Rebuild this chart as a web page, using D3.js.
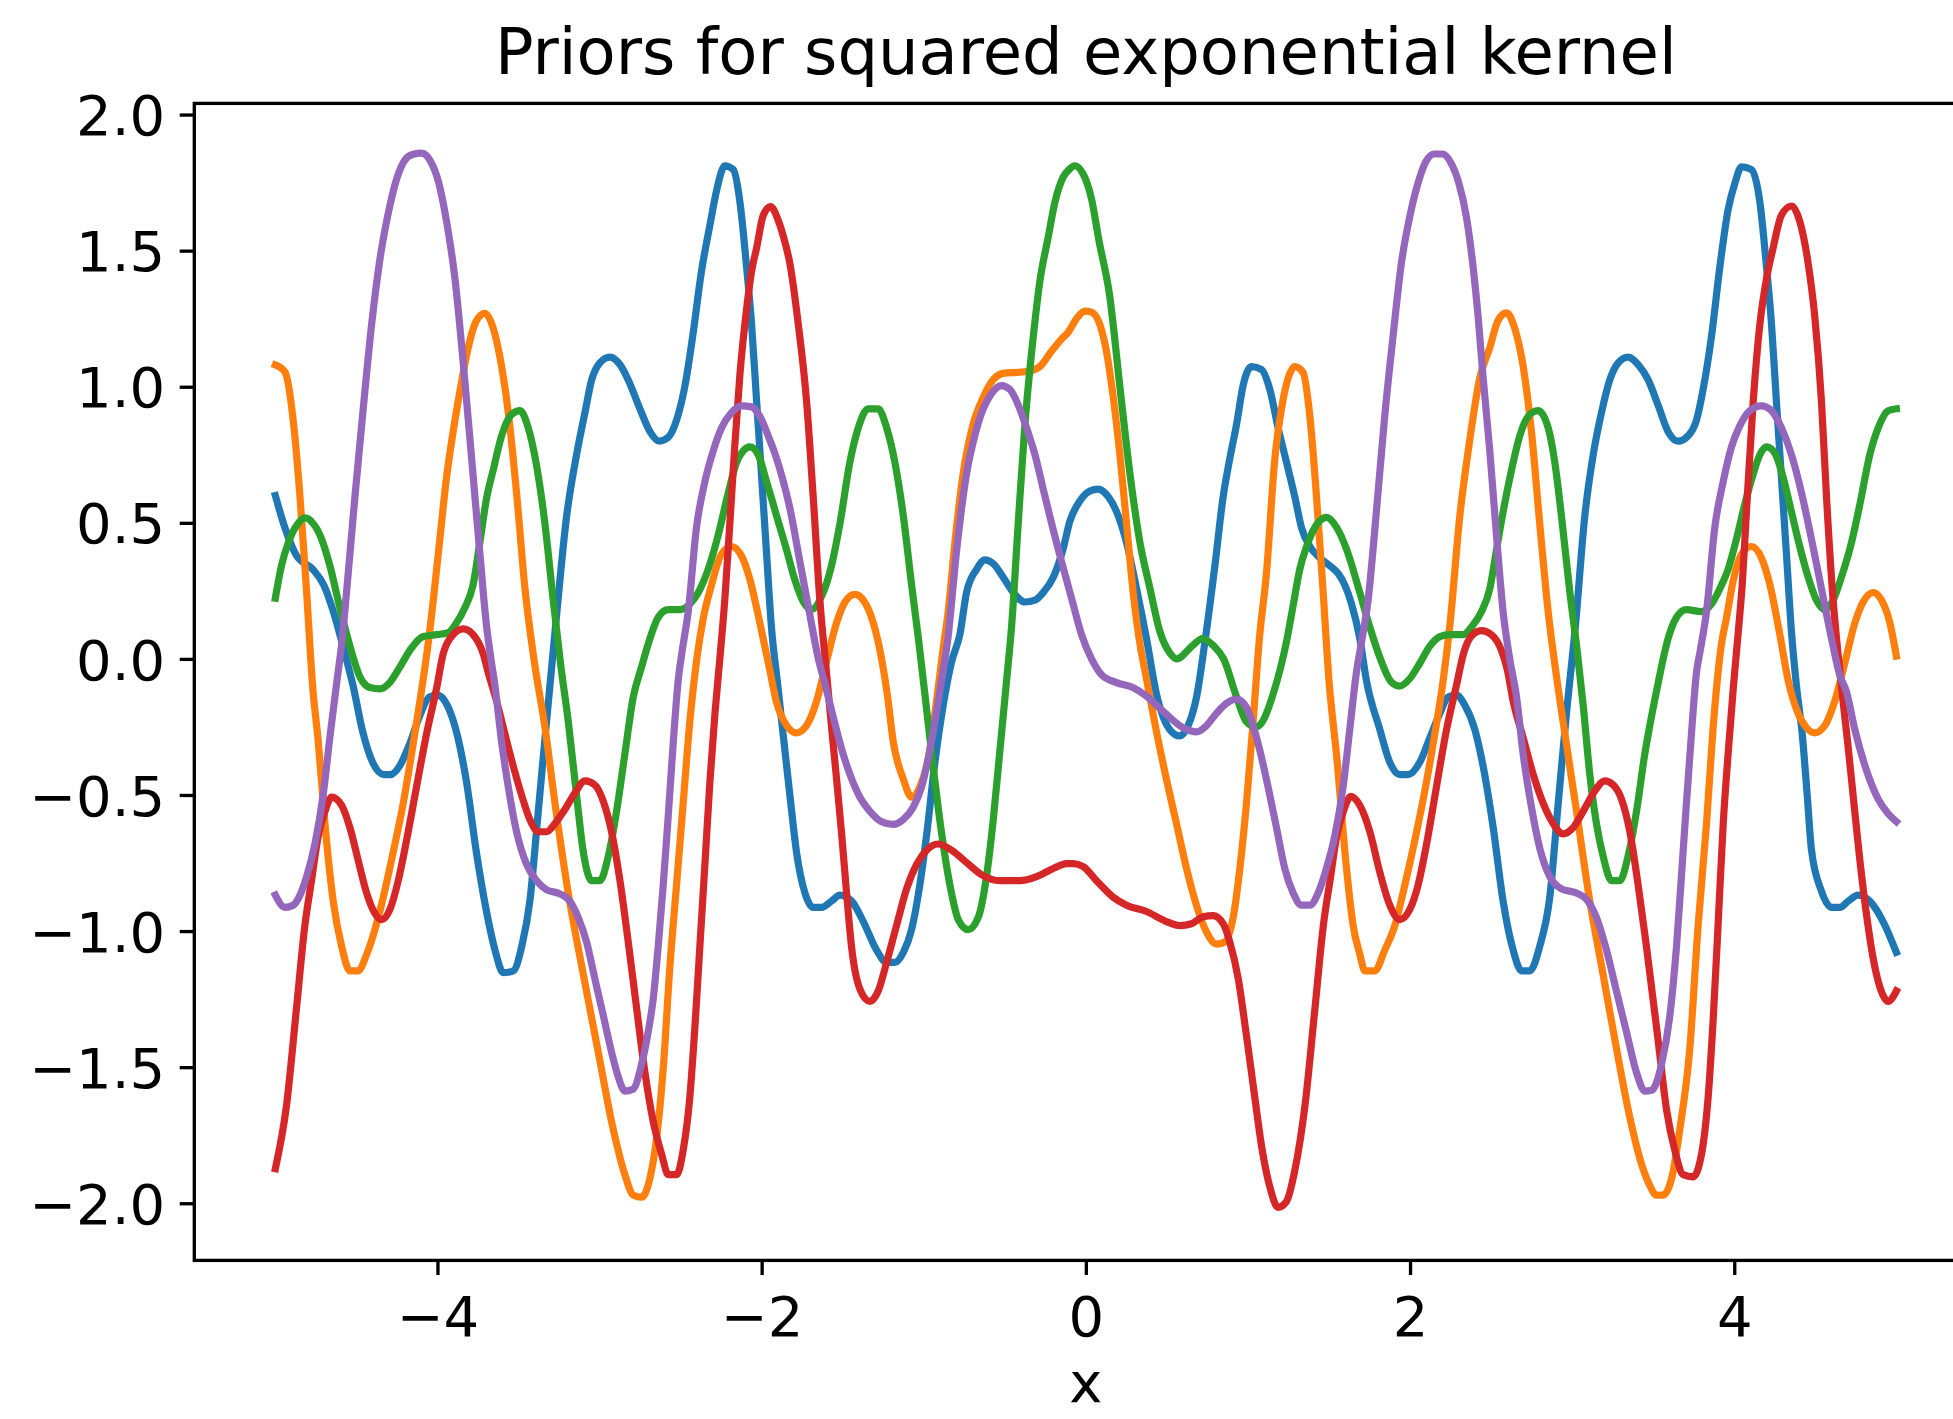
<!DOCTYPE html>
<html>
<head>
<meta charset="utf-8">
<script src="https://cdn.jsdelivr.net/npm/d3@7"></script>
<style>
  html, body { margin: 0; padding: 0; background: #ffffff; }
  svg { display: block; }
  text { font-family: "DejaVu Sans", sans-serif; fill: #000000; }
</style>
</head>
<body>
<svg id="chart" width="1953" height="1419"></svg>
<script>
// Labels and ticks
const titleText = "Priors for squared exponential kernel";
const xLabelText = "x";
const xTicks = [-4, -2, 0, 2, 4];
const yTicks = [-2.0, -1.5, -1.0, -0.5, 0.0, 0.5, 1.0, 1.5, 2.0];
const sampleColors = ["#1f77b4", "#ff7f0e", "#2ca02c", "#d62728", "#9467bd"];

// Five prior draws, [x, f(x)]
const sample1 = [[-5.00,0.60],[-4.94,0.48],[-4.87,0.38],[-4.77,0.33],[-4.70,0.27],[-4.64,0.17],[-4.58,0.04],[-4.52,-0.10],[-4.46,-0.27],[-4.40,-0.38],[-4.33,-0.425],[-4.29,-0.425],[-4.23,-0.39],[-4.17,-0.31],[-4.11,-0.21],[-4.05,-0.14],[-4.00,-0.133],[-3.94,-0.17],[-3.88,-0.275],[-3.82,-0.455],[-3.76,-0.71],[-3.70,-0.92],[-3.645,-1.07],[-3.594,-1.153],[-3.532,-1.146],[-3.48,-1.056],[-3.43,-0.89],[-3.378,-0.56],[-3.327,-0.23],[-3.27,0.13],[-3.203,0.525],[-3.142,0.75],[-3.09,0.905],[-3.049,1.025],[-2.998,1.088],[-2.936,1.109],[-2.874,1.081],[-2.823,1.025],[-2.751,0.919],[-2.689,0.835],[-2.632,0.80],[-2.576,0.814],[-2.525,0.877],[-2.473,1.004],[-2.422,1.20],[-2.371,1.425],[-2.319,1.594],[-2.278,1.721],[-2.227,1.812],[-2.175,1.798],[-2.134,1.679],[-2.093,1.44],[-2.062,1.229],[-2.031,0.947],[-2.00,0.666],[-1.97,0.39],[-1.94,0.12],[-1.90,-0.10],[-1.867,-0.28],[-1.826,-0.50],[-1.785,-0.71],[-1.733,-0.86],[-1.682,-0.913],[-1.63,-0.913],[-1.569,-0.89],[-1.517,-0.868],[-1.445,-0.89],[-1.373,-0.965],[-1.291,-1.07],[-1.229,-1.115],[-1.178,-1.115],[-1.126,-1.078],[-1.075,-0.995],[-1.024,-0.83],[-0.983,-0.65],[-0.931,-0.38],[-0.88,-0.17],[-0.828,-0.01],[-0.777,0.09],[-0.736,0.244],[-0.674,0.329],[-0.623,0.364],[-0.571,0.35],[-0.51,0.30],[-0.448,0.244],[-0.376,0.209],[-0.314,0.216],[-0.263,0.244],[-0.201,0.30],[-0.14,0.405],[-0.099,0.505],[-0.037,0.58],[0.025,0.617],[0.076,0.624],[0.138,0.596],[0.19,0.54],[0.251,0.427],[0.313,0.258],[0.374,0.075],[0.436,-0.13],[0.518,-0.26],[0.58,-0.283],[0.631,-0.245],[0.683,-0.14],[0.734,0.06],[0.796,0.342],[0.847,0.596],[0.888,0.736],[0.93,0.863],[0.97,1.004],[1.022,1.074],[1.084,1.063],[1.135,0.99],[1.186,0.849],[1.238,0.722],[1.289,0.596],[1.33,0.483],[1.382,0.413],[1.443,0.371],[1.505,0.342],[1.556,0.314],[1.597,0.272],[1.639,0.202],[1.69,0.075],[1.731,-0.08],[1.814,-0.26],[1.875,-0.38],[1.937,-0.425],[1.988,-0.425],[2.06,-0.38],[2.122,-0.29],[2.184,-0.20],[2.235,-0.14],[2.286,-0.133],[2.338,-0.17],[2.40,-0.26],[2.451,-0.395],[2.513,-0.62],[2.574,-0.89],[2.636,-1.07],[2.688,-1.146],[2.739,-1.146],[2.80,-1.056],[2.862,-0.875],[2.914,-0.53],[2.965,-0.20],[3.02,0.12],[3.078,0.525],[3.13,0.75],[3.181,0.905],[3.232,1.025],[3.284,1.088],[3.345,1.109],[3.407,1.081],[3.469,1.025],[3.53,0.933],[3.592,0.835],[3.654,0.80],[3.716,0.82],[3.767,0.877],[3.808,0.99],[3.86,1.186],[3.911,1.44],[3.962,1.65],[4.005,1.75],[4.045,1.808],[4.106,1.798],[4.158,1.679],[4.199,1.44],[4.23,1.229],[4.26,0.947],[4.291,0.666],[4.322,0.385],[4.353,0.10],[4.384,-0.10],[4.42,-0.28],[4.45,-0.50],[4.476,-0.70],[4.538,-0.853],[4.60,-0.913],[4.651,-0.913],[4.703,-0.89],[4.764,-0.868],[4.836,-0.89],[4.918,-0.965],[5.00,-1.078]];

const sample2 = [[-5.00,1.08],[-4.94,1.053],[-4.89,0.877],[-4.848,0.596],[-4.807,0.244],[-4.77,-0.10],[-4.735,-0.306],[-4.694,-0.606],[-4.643,-0.89],[-4.591,-1.056],[-4.54,-1.146],[-4.489,-1.146],[-4.437,-1.086],[-4.386,-0.995],[-4.334,-0.875],[-4.273,-0.71],[-4.211,-0.53],[-4.16,-0.35],[-4.108,-0.155],[-4.05,0.09],[-3.995,0.385],[-3.944,0.666],[-3.892,0.877],[-3.851,1.018],[-3.81,1.144],[-3.759,1.243],[-3.707,1.27],[-3.656,1.215],[-3.604,1.074],[-3.563,0.905],[-3.512,0.61],[-3.46,0.258],[-3.40,-0.02],[-3.337,-0.25],[-3.275,-0.53],[-3.193,-0.86],[-3.10,-1.16],[-3.008,-1.445],[-2.915,-1.73],[-2.844,-1.895],[-2.792,-1.97],[-2.741,-1.978],[-2.69,-1.91],[-2.648,-1.76],[-2.607,-1.505],[-2.566,-1.13],[-2.525,-0.83],[-2.484,-0.53],[-2.443,-0.23],[-2.40,0.00],[-2.36,0.15],[-2.31,0.27],[-2.248,0.385],[-2.186,0.413],[-2.124,0.378],[-2.073,0.293],[-2.011,0.132],[-1.95,-0.04],[-1.908,-0.16],[-1.846,-0.245],[-1.785,-0.272],[-1.723,-0.245],[-1.661,-0.155],[-1.60,-0.01],[-1.538,0.132],[-1.486,0.209],[-1.425,0.237],[-1.373,0.216],[-1.311,0.132],[-1.26,0.00],[-1.225,-0.13],[-1.188,-0.305],[-1.127,-0.44],[-1.075,-0.508],[-1.024,-0.47],[-0.972,-0.365],[-0.921,-0.155],[-0.88,0.04],[-0.85,0.17],[-0.808,0.427],[-0.746,0.722],[-0.695,0.863],[-0.633,0.961],[-0.582,1.018],[-0.51,1.049],[-0.428,1.053],[-0.356,1.057],[-0.284,1.074],[-0.212,1.13],[-0.15,1.175],[-0.109,1.20],[-0.058,1.25],[-0.006,1.278],[0.035,1.274],[0.086,1.229],[0.127,1.13],[0.169,0.961],[0.21,0.75],[0.251,0.497],[0.292,0.244],[0.335,0.05],[0.37,-0.06],[0.44,-0.28],[0.50,-0.45],[0.559,-0.605],[0.621,-0.77],[0.682,-0.905],[0.744,-1.003],[0.806,-1.048],[0.857,-1.04],[0.909,-0.95],[0.95,-0.77],[0.991,-0.53],[1.032,-0.23],[1.07,0.07],[1.114,0.314],[1.166,0.736],[1.207,0.919],[1.248,1.032],[1.289,1.074],[1.34,1.053],[1.382,0.891],[1.423,0.596],[1.464,0.244],[1.50,-0.08],[1.546,-0.35],[1.608,-0.77],[1.649,-0.98],[1.69,-1.085],[1.721,-1.146],[1.783,-1.146],[1.844,-1.07],[1.906,-0.98],[1.968,-0.83],[2.03,-0.665],[2.091,-0.485],[2.153,-0.275],[2.204,-0.08],[2.245,0.12],[2.307,0.525],[2.369,0.807],[2.43,1.032],[2.492,1.144],[2.543,1.243],[2.595,1.271],[2.646,1.214],[2.698,1.074],[2.749,0.835],[2.80,0.497],[2.852,0.174],[2.90,-0.05],[2.944,-0.23],[3.027,-0.56],[3.109,-0.89],[3.191,-1.16],[3.273,-1.43],[3.356,-1.685],[3.43,-1.86],[3.475,-1.93],[3.52,-1.97],[3.561,-1.97],[3.613,-1.91],[3.664,-1.73],[3.726,-1.43],[3.777,-0.98],[3.829,-0.605],[3.87,-0.25],[3.92,0.05],[3.952,0.15],[3.993,0.286],[4.045,0.385],[4.106,0.413],[4.168,0.371],[4.22,0.272],[4.281,0.09],[4.333,-0.08],[4.394,-0.20],[4.446,-0.253],[4.497,-0.272],[4.559,-0.245],[4.62,-0.155],[4.68,-0.02],[4.744,0.132],[4.795,0.209],[4.857,0.244],[4.908,0.216],[4.96,0.132],[5.00,0.01]];

const sample3 = [[-5.00,0.223],[-4.962,0.343],[-4.92,0.427],[-4.869,0.49],[-4.818,0.518],[-4.766,0.497],[-4.715,0.441],[-4.664,0.343],[-4.602,0.188],[-4.54,0.047],[-4.479,-0.065],[-4.417,-0.105],[-4.355,-0.11],[-4.293,-0.086],[-4.232,-0.03],[-4.16,0.04],[-4.088,0.082],[-4.006,0.089],[-3.934,0.096],[-3.883,0.132],[-3.831,0.188],[-3.78,0.272],[-3.738,0.43],[-3.697,0.59],[-3.656,0.694],[-3.604,0.82],[-3.543,0.898],[-3.491,0.912],[-3.44,0.849],[-3.388,0.708],[-3.337,0.497],[-3.286,0.216],[-3.24,-0.02],[-3.193,-0.23],[-3.142,-0.50],[-3.10,-0.71],[-3.049,-0.815],[-2.998,-0.815],[-2.946,-0.725],[-2.895,-0.56],[-2.844,-0.35],[-2.792,-0.14],[-2.741,-0.03],[-2.689,0.075],[-2.638,0.153],[-2.576,0.181],[-2.504,0.181],[-2.443,0.202],[-2.391,0.244],[-2.33,0.329],[-2.268,0.455],[-2.206,0.61],[-2.155,0.722],[-2.114,0.764],[-2.072,0.779],[-2.021,0.75],[-1.97,0.652],[-1.91,0.53],[-1.846,0.40],[-1.795,0.29],[-1.743,0.21],[-1.692,0.181],[-1.63,0.23],[-1.569,0.343],[-1.517,0.497],[-1.456,0.722],[-1.404,0.849],[-1.343,0.919],[-1.281,0.919],[-1.229,0.849],[-1.178,0.722],[-1.126,0.525],[-1.075,0.272],[-1.03,0.06],[-0.993,-0.13],[-0.941,-0.40],[-0.89,-0.64],[-0.839,-0.83],[-0.787,-0.958],[-0.726,-0.995],[-0.664,-0.95],[-0.613,-0.80],[-0.571,-0.59],[-0.53,-0.335],[-0.489,-0.08],[-0.458,0.12],[-0.417,0.50],[-0.376,0.86],[-0.325,1.18],[-0.283,1.39],[-0.232,1.55],[-0.19,1.68],[-0.14,1.77],[-0.10,1.80],[-0.07,1.812],[-0.02,1.785],[0.035,1.69],[0.08,1.54],[0.148,1.33],[0.21,1.00],[0.27,0.69],[0.333,0.43],[0.395,0.26],[0.457,0.10],[0.52,0.02],[0.56,0.00],[0.66,0.05],[0.72,0.075],[0.785,0.05],[0.85,0.00],[0.93,-0.14],[0.99,-0.23],[1.05,-0.25],[1.09,-0.23],[1.155,-0.13],[1.24,0.07],[1.28,0.20],[1.32,0.33],[1.36,0.41],[1.42,0.49],[1.485,0.52],[1.55,0.48],[1.61,0.40],[1.69,0.244],[1.752,0.117],[1.814,0.005],[1.886,-0.086],[1.937,-0.10],[1.999,-0.072],[2.06,-0.016],[2.122,0.047],[2.184,0.082],[2.245,0.089],[2.328,0.089],[2.379,0.117],[2.441,0.174],[2.492,0.258],[2.533,0.399],[2.574,0.54],[2.626,0.694],[2.677,0.82],[2.729,0.891],[2.79,0.912],[2.852,0.849],[2.893,0.722],[2.934,0.525],[2.986,0.244],[3.027,0.05],[3.068,-0.17],[3.109,-0.425],[3.15,-0.605],[3.191,-0.725],[3.243,-0.815],[3.294,-0.815],[3.345,-0.725],[3.397,-0.56],[3.448,-0.35],[3.49,-0.21],[3.53,-0.09],[3.592,0.075],[3.644,0.153],[3.705,0.181],[3.798,0.174],[3.86,0.202],[3.911,0.258],[3.962,0.329],[4.014,0.441],[4.065,0.568],[4.117,0.68],[4.158,0.75],[4.199,0.779],[4.25,0.757],[4.302,0.666],[4.353,0.54],[4.404,0.413],[4.456,0.30],[4.507,0.216],[4.559,0.181],[4.61,0.216],[4.661,0.30],[4.723,0.427],[4.775,0.568],[4.836,0.75],[4.888,0.849],[4.949,0.912],[5.00,0.919]];

const sample4 = [[-5.00,-1.873],[-4.931,-1.64],[-4.869,-1.28],[-4.818,-0.98],[-4.777,-0.815],[-4.735,-0.65],[-4.694,-0.56],[-4.653,-0.508],[-4.591,-0.538],[-4.54,-0.62],[-4.489,-0.74],[-4.437,-0.86],[-4.386,-0.935],[-4.345,-0.958],[-4.293,-0.92],[-4.242,-0.815],[-4.19,-0.665],[-4.129,-0.47],[-4.067,-0.275],[-4.006,-0.11],[-3.964,0.02],[-3.903,0.089],[-3.841,0.11],[-3.78,0.089],[-3.718,0.019],[-3.687,-0.05],[-3.635,-0.155],[-3.584,-0.275],[-3.532,-0.395],[-3.481,-0.50],[-3.43,-0.59],[-3.378,-0.635],[-3.327,-0.635],[-3.275,-0.605],[-3.214,-0.553],[-3.152,-0.493],[-3.09,-0.448],[-3.029,-0.463],[-2.977,-0.523],[-2.926,-0.635],[-2.874,-0.815],[-2.823,-1.04],[-2.772,-1.28],[-2.72,-1.52],[-2.669,-1.70],[-2.617,-1.82],[-2.576,-1.895],[-2.525,-1.895],[-2.484,-1.805],[-2.443,-1.61],[-2.412,-1.355],[-2.381,-1.055],[-2.35,-0.755],[-2.319,-0.45],[-2.288,-0.20],[-2.258,0.00],[-2.227,0.22],[-2.196,0.50],[-2.165,0.79],[-2.134,1.046],[-2.093,1.285],[-2.062,1.425],[-2.031,1.51],[-1.99,1.63],[-1.945,1.662],[-1.90,1.615],[-1.865,1.55],[-1.826,1.453],[-1.774,1.229],[-1.723,0.947],[-1.682,0.596],[-1.641,0.216],[-1.60,-0.05],[-1.569,-0.25],[-1.538,-0.44],[-1.507,-0.64],[-1.476,-0.86],[-1.445,-1.06],[-1.394,-1.213],[-1.332,-1.258],[-1.281,-1.22],[-1.229,-1.115],[-1.168,-0.98],[-1.106,-0.845],[-1.044,-0.755],[-0.983,-0.703],[-0.911,-0.68],[-0.828,-0.703],[-0.736,-0.748],[-0.643,-0.793],[-0.53,-0.815],[-0.407,-0.815],[-0.304,-0.80],[-0.201,-0.77],[-0.119,-0.752],[-0.078,-0.752],[-0.016,-0.763],[0.066,-0.815],[0.168,-0.875],[0.251,-0.905],[0.374,-0.928],[0.497,-0.965],[0.58,-0.98],[0.652,-0.973],[0.724,-0.947],[0.785,-0.943],[0.847,-0.973],[0.888,-1.04],[0.94,-1.175],[0.991,-1.385],[1.042,-1.61],[1.084,-1.79],[1.135,-1.94],[1.186,-2.015],[1.238,-1.993],[1.289,-1.88],[1.352,-1.64],[1.414,-1.28],[1.465,-0.98],[1.506,-0.815],[1.548,-0.65],[1.589,-0.56],[1.635,-0.505],[1.69,-0.538],[1.752,-0.635],[1.814,-0.785],[1.875,-0.905],[1.937,-0.958],[1.999,-0.92],[2.05,-0.83],[2.102,-0.68],[2.163,-0.47],[2.225,-0.26],[2.287,-0.095],[2.33,0.02],[2.38,0.085],[2.44,0.104],[2.502,0.089],[2.563,0.033],[2.60,-0.04],[2.636,-0.155],[2.698,-0.29],[2.76,-0.425],[2.821,-0.53],[2.883,-0.605],[2.944,-0.643],[3.006,-0.62],[3.068,-0.56],[3.14,-0.485],[3.20,-0.448],[3.253,-0.463],[3.304,-0.515],[3.356,-0.635],[3.407,-0.83],[3.458,-1.055],[3.53,-1.40],[3.582,-1.655],[3.633,-1.805],[3.685,-1.895],[3.746,-1.903],[3.798,-1.82],[3.839,-1.61],[3.87,-1.325],[3.90,-0.98],[3.932,-0.605],[3.962,-0.35],[3.995,-0.10],[4.025,0.10],[4.05,0.28],[4.076,0.55],[4.117,0.947],[4.158,1.229],[4.199,1.397],[4.24,1.51],[4.291,1.63],[4.353,1.664],[4.404,1.608],[4.456,1.453],[4.497,1.257],[4.538,0.947],[4.569,0.596],[4.61,0.216],[4.64,0.02],[4.672,-0.16],[4.702,-0.32],[4.733,-0.50],[4.775,-0.74],[4.816,-0.94],[4.857,-1.10],[4.898,-1.205],[4.949,-1.258],[5.00,-1.22]];

const sample5 = [[-5.00,-0.868],[-4.941,-0.913],[-4.89,-0.905],[-4.848,-0.868],[-4.807,-0.80],[-4.756,-0.68],[-4.705,-0.50],[-4.664,-0.29],[-4.622,-0.09],[-4.59,0.06],[-4.561,0.244],[-4.509,0.596],[-4.458,0.919],[-4.406,1.229],[-4.355,1.468],[-4.304,1.636],[-4.252,1.763],[-4.201,1.833],[-4.149,1.854],[-4.098,1.858],[-4.047,1.833],[-3.995,1.756],[-3.944,1.608],[-3.892,1.397],[-3.841,1.088],[-3.789,0.736],[-3.738,0.385],[-3.697,0.12],[-3.67,0.00],[-3.645,-0.10],[-3.604,-0.305],[-3.563,-0.47],[-3.512,-0.635],[-3.45,-0.755],[-3.388,-0.815],[-3.327,-0.848],[-3.245,-0.863],[-3.183,-0.89],[-3.132,-0.95],[-3.08,-1.04],[-3.029,-1.175],[-2.977,-1.31],[-2.926,-1.445],[-2.885,-1.535],[-2.844,-1.588],[-2.792,-1.58],[-2.741,-1.49],[-2.70,-1.37],[-2.669,-1.25],[-2.638,-1.055],[-2.607,-0.83],[-2.576,-0.575],[-2.545,-0.305],[-2.515,-0.08],[-2.49,0.03],[-2.453,0.174],[-2.402,0.483],[-2.35,0.652],[-2.299,0.764],[-2.247,0.849],[-2.186,0.905],[-2.124,0.93],[-2.062,0.926],[-2.011,0.891],[-1.96,0.82],[-1.91,0.74],[-1.87,0.66],[-1.826,0.554],[-1.764,0.357],[-1.702,0.16],[-1.65,0.00],[-1.61,-0.09],[-1.558,-0.215],[-1.507,-0.33],[-1.455,-0.425],[-1.394,-0.508],[-1.332,-0.56],[-1.26,-0.598],[-1.188,-0.608],[-1.126,-0.59],[-1.065,-0.545],[-1.013,-0.47],[-0.972,-0.365],[-0.931,-0.23],[-0.89,-0.08],[-0.85,0.08],[-0.797,0.40],[-0.736,0.68],[-0.685,0.82],[-0.633,0.919],[-0.582,0.975],[-0.52,1.004],[-0.469,0.99],[-0.417,0.933],[-0.366,0.849],[-0.314,0.75],[-0.263,0.624],[-0.211,0.497],[-0.16,0.38],[-0.119,0.29],[-0.078,0.20],[-0.027,0.09],[0.035,0.00],[0.10,-0.06],[0.19,-0.087],[0.29,-0.105],[0.37,-0.135],[0.49,-0.20],[0.60,-0.253],[0.683,-0.268],[0.744,-0.245],[0.806,-0.20],[0.868,-0.163],[0.93,-0.148],[0.991,-0.178],[1.032,-0.245],[1.073,-0.335],[1.124,-0.47],[1.176,-0.62],[1.227,-0.77],[1.279,-0.86],[1.33,-0.905],[1.382,-0.905],[1.433,-0.86],[1.484,-0.77],[1.536,-0.65],[1.587,-0.47],[1.628,-0.26],[1.669,-0.05],[1.70,0.06],[1.74,0.21],[1.795,0.56],[1.845,0.90],[1.896,1.19],[1.948,1.46],[2.00,1.63],[2.05,1.75],[2.10,1.83],[2.15,1.855],[2.20,1.855],[2.25,1.825],[2.30,1.75],[2.348,1.622],[2.389,1.44],[2.42,1.257],[2.451,1.032],[2.492,0.764],[2.533,0.455],[2.574,0.174],[2.615,0.00],[2.657,-0.14],[2.698,-0.35],[2.749,-0.545],[2.80,-0.695],[2.862,-0.80],[2.934,-0.845],[3.027,-0.86],[3.088,-0.883],[3.15,-0.95],[3.212,-1.07],[3.273,-1.22],[3.335,-1.37],[3.397,-1.52],[3.448,-1.588],[3.49,-1.585],[3.551,-1.49],[3.603,-1.31],[3.644,-1.055],[3.674,-0.80],[3.705,-0.53],[3.736,-0.275],[3.767,-0.05],[3.79,0.03],[3.829,0.174],[3.88,0.483],[3.932,0.652],[3.983,0.779],[4.034,0.856],[4.096,0.912],[4.168,0.93],[4.23,0.912],[4.291,0.849],[4.353,0.75],[4.415,0.61],[4.476,0.441],[4.538,0.258],[4.60,0.075],[4.651,-0.06],[4.692,-0.12],[4.744,-0.26],[4.816,-0.41],[4.888,-0.515],[4.949,-0.568],[5.00,-0.598]];

const samples = [sample1, sample2, sample3, sample4, sample5];

// Layout
const W = 1953, H = 1419;
const plot = { left: 194.3, right: 1977.4, top: 103.4, bottom: 1260.4 };
const tickLen = 14.6, tickPad = 14.6, spineWidth = 3.33;
const tickFont = 56, titleFont = 64;

const x = d3.scaleLinear().domain([-5.5, 5.5]).range([plot.left, plot.right]);
const y = d3.scaleLinear().domain([-2.21, 2.041]).range([plot.bottom, plot.top]);

const svg = d3.select("#chart");
svg.append("rect").attr("width", W).attr("height", H).attr("fill", "#ffffff");

svg.append("defs").append("clipPath").attr("id", "plot-area")
  .append("rect")
  .attr("x", plot.left).attr("y", plot.top)
  .attr("width", plot.right - plot.left).attr("height", plot.bottom - plot.top);

// Sample paths
const line = d3.line()
  .x(d => x(d[0]))
  .y(d => y(d[1]))
  .curve(d3.curveMonotoneX);

svg.append("g")
  .attr("clip-path", "url(#plot-area)")
  .selectAll("path")
  .data(samples)
  .join("path")
  .attr("d", line)
  .attr("fill", "none")
  .attr("stroke", (d, i) => sampleColors[i])
  .attr("stroke-width", 7.2)
  .attr("stroke-linejoin", "round")
  .attr("stroke-linecap", "square");

// Axes
const xAxis = d3.axisBottom(x)
  .tickValues(xTicks)
  .tickSize(tickLen)
  .tickFormat(d3.format("d"));

const yAxis = d3.axisLeft(y)
  .tickValues(yTicks)
  .tickSize(tickLen)
  .tickPadding(tickPad)
  .tickFormat(d3.format(".1f"));

const gx = svg.append("g")
  .attr("transform", `translate(0,${plot.bottom})`)
  .call(xAxis);
gx.select(".domain").remove();
gx.selectAll(".tick line").attr("stroke", "#000").attr("stroke-width", spineWidth);
gx.selectAll(".tick text")
  .attr("y", 75.5)
  .attr("dy", null)
  .attr("font-size", tickFont)
  .attr("font-family", "DejaVu Sans")
  .attr("fill", "#000");

const gy = svg.append("g")
  .attr("transform", `translate(${plot.left},0)`)
  .call(yAxis);
gy.select(".domain").remove();
gy.selectAll(".tick line").attr("stroke", "#000").attr("stroke-width", spineWidth);
gy.selectAll(".tick text")
  .attr("dy", "0.36em")
  .attr("font-size", tickFont)
  .attr("font-family", "DejaVu Sans")
  .attr("fill", "#000");

// Spines
svg.append("rect")
  .attr("x", plot.left).attr("y", plot.top)
  .attr("width", plot.right - plot.left).attr("height", plot.bottom - plot.top)
  .attr("fill", "none")
  .attr("stroke", "#000")
  .attr("stroke-width", spineWidth)
  .attr("stroke-linejoin", "miter");

// Title and axis label
const cx = (plot.left + plot.right) / 2;
svg.append("text")
  .attr("x", cx).attr("y", 74)
  .attr("text-anchor", "middle")
  .attr("font-size", titleFont)
  .text(titleText);

svg.append("text")
  .attr("x", cx).attr("y", 1402)
  .attr("text-anchor", "middle")
  .attr("font-size", tickFont)
  .text(xLabelText);
</script>
</body>
</html>
